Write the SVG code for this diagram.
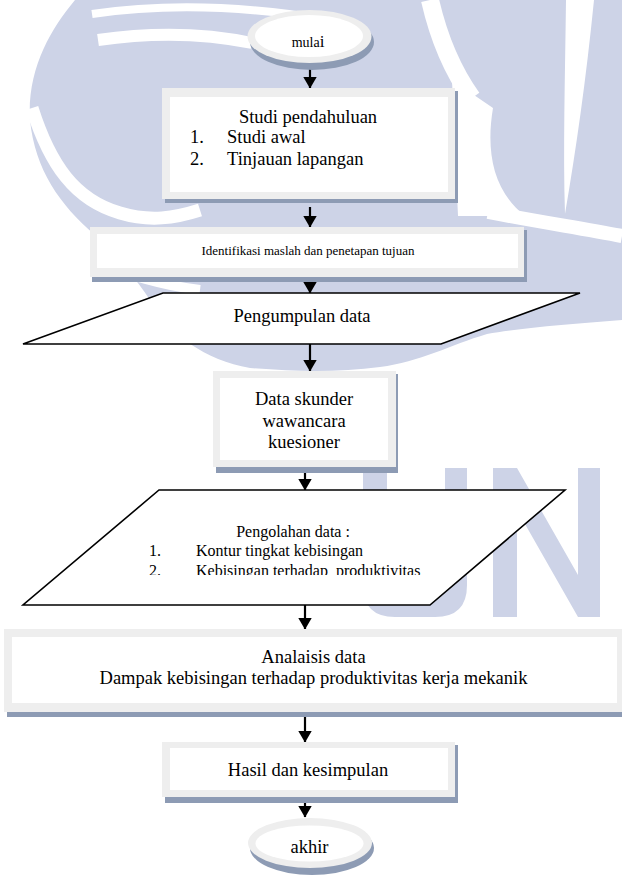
<svg xmlns="http://www.w3.org/2000/svg" width="622" height="875" viewBox="0 0 622 875">
<style>
.wm{fill:#cdd3e7}
.wb{fill:none;stroke:#ffffff}
.sh{fill:#8d9bb4}
.ob{fill:#eeeeee}
.ib{fill:#ffffff}
.pg{fill:#ffffff;stroke:#000000;stroke-width:1.6}
.t{font-family:"Liberation Serif","Times New Roman",serif;fill:#000000}
.c{text-anchor:middle}
.f18{font-size:18.5px}
.f16{font-size:16px}
.f13{font-size:13px}
.cn{stroke:#000000;stroke-width:2.2;fill:none;marker-end:url(#ah)}
</style>
<defs>
<marker id="ah" viewBox="0 0 12 14" refX="11.5" refY="7" markerWidth="12" markerHeight="14" markerUnits="userSpaceOnUse" orient="auto">
<path d="M0,0 L12,7 L0,14 Z" fill="#000000"/>
</marker>
<clipPath id="clipPg">
<rect x="0" y="480" width="622" height="95"/>
</clipPath>
</defs>
<rect width="622" height="875" fill="#ffffff"/>
<g id="watermark">
<path class="wm" d="M75,0 L622,0 L622,320 C570,324 520,328 487,334 C450,345 420,362 380,367 C340,372 300,372 250,368 C205,360 170,335 150,300 C130,270 110,250 95,235 C60,205 35,170 30,120 C27,70 50,30 75,0 Z"/>
<path class="wb" stroke-width="8" d="M92,14 Q200,-2 330,20"/>
<path class="wb" stroke-width="12" d="M98,40 Q180,28 252,43"/>
<path class="wb" stroke-width="13" d="M32,108 C50,165 75,200 120,213 C150,222 175,218 200,210"/>
<path class="wb" stroke-width="10" d="M95,262 C130,275 160,285 200,290"/>
<path class="wb" stroke-width="18" d="M430,0 C438,35 452,70 472,98"/>
<path fill="#ffffff" d="M452,80 L493,108 C486,150 492,190 525,216 L458,216 Z"/>
<path fill="#ffffff" d="M566,0 L594,0 C586,80 576,150 565,214 C563,150 565,80 566,0 Z"/>
<path class="wb" stroke-width="14" d="M488,212 C540,222 580,228 622,236"/>
<path class="wm" d="M363,468 L387,468 L387,578 Q387,597 407,597 L425,597 Q445,597 445,578 L445,468 L467,468 L467,585 Q467,617 435,617 L395,617 Q363,617 363,585 Z"/>
<path class="wm" d="M493,468 L517,468 L578,575 L578,468 L600,468 L600,617 L578,617 L517,510 L517,617 L493,617 Z"/>
</g>
<g id="connectors">
<line class="cn" x1="310" y1="68" x2="310" y2="88"/>
<line class="cn" x1="310" y1="207" x2="310" y2="227"/>
<line class="cn" x1="310" y1="271" x2="310" y2="293"/>
<line class="cn" x1="310" y1="344" x2="310" y2="371"/>
<line class="cn" x1="305" y1="462" x2="305" y2="490"/>
<line class="cn" x1="305" y1="605" x2="305" y2="629"/>
<line class="cn" x1="305" y1="707" x2="305" y2="742"/>
<line class="cn" x1="305" y1="793" x2="305" y2="817"/>
</g>
<g id="mulai">
<ellipse class="sh" cx="312" cy="42" rx="62" ry="28"/>
<ellipse class="ob" cx="309.5" cy="36.5" rx="62" ry="26.5"/>
<ellipse class="ib" cx="309" cy="36" rx="54" ry="21"/>
<text class="t c" x="308" y="47" font-size="14">mula<tspan font-size="17">i</tspan></text>
</g>
<g id="studi">
<rect class="sh" x="165" y="91" width="293" height="112"/>
<rect class="ob" x="162" y="88" width="293" height="111"/>
<rect class="ib" x="170" y="97" width="278" height="95"/>
<text class="t c f18" x="308" y="123">Studi pendahuluan</text>
<text class="t f18" x="190" y="143">1.</text>
<text class="t f18" x="227" y="143">Studi awal</text>
<text class="t f18" x="190" y="165">2.</text>
<text class="t f18" x="227" y="165">Tinjauan lapangan</text>
</g>
<g id="identifikasi">
<rect class="sh" x="92" y="230" width="435" height="52"/>
<rect class="ob" x="90" y="227" width="434" height="50"/>
<rect class="ib" x="97" y="234" width="421" height="34"/>
<text class="t c f13" x="308" y="255">Identifikasi maslah dan penetapan tujuan</text>
</g>
<g id="pengumpulan">
<polygon class="pg" points="163,293 580,293 441,344 23,344"/>
<text class="t c f18" x="302" y="322">Pengumpulan data</text>
</g>
<g id="data">
<rect class="sh" x="216" y="374" width="182" height="99"/>
<rect class="ob" x="213" y="371" width="183" height="96"/>
<rect class="ib" x="220" y="378" width="168" height="82"/>
<text class="t c f18" x="304" y="405">Data skunder</text>
<text class="t c f18" x="304" y="427">wawancara</text>
<text class="t c f18" x="304" y="448">kuesioner</text>
</g>
<g id="pengolahan">
<polygon class="pg" points="159,490 565,490 430,605 23,605"/>
<text class="t c f16" x="293" y="537">Pengolahan data :</text>
<text class="t f16" x="149" y="556">1.</text>
<text class="t f16" x="196" y="556">Kontur tingkat kebisingan</text>
<g clip-path="url(#clipPg)">
<text class="t f16" x="149" y="576">2.</text>
<text class="t f16" x="196" y="576" xml:space="preserve">Kebisingan terhadap  produktivitas</text>
</g>
</g>
<g id="analisis">
<rect class="sh" x="7" y="633" width="615" height="84"/>
<rect class="ob" x="4" y="629" width="618" height="83"/>
<rect class="ib" x="12" y="637" width="605" height="66"/>
<text class="t c f18" x="313.5" y="663">Analaisis data</text>
<text class="t c f18" x="313.5" y="684">Dampak kebisingan terhadap produktivitas kerja mekanik</text>
</g>
<g id="hasil">
<rect class="sh" x="165" y="745" width="293" height="58"/>
<rect class="ob" x="162" y="742" width="293" height="55"/>
<rect class="ib" x="170" y="748" width="278" height="42"/>
<text class="t c f18" x="308" y="776">Hasil dan kesimpulan</text>
</g>
<g id="akhir">
<ellipse class="sh" cx="312" cy="848" rx="62" ry="27"/>
<ellipse class="ob" cx="310" cy="843" rx="62" ry="25"/>
<ellipse class="ib" cx="309.5" cy="843.5" rx="54" ry="18"/>
<text class="t c f18" x="309.5" y="853">akhir</text>
</g>
</svg>
